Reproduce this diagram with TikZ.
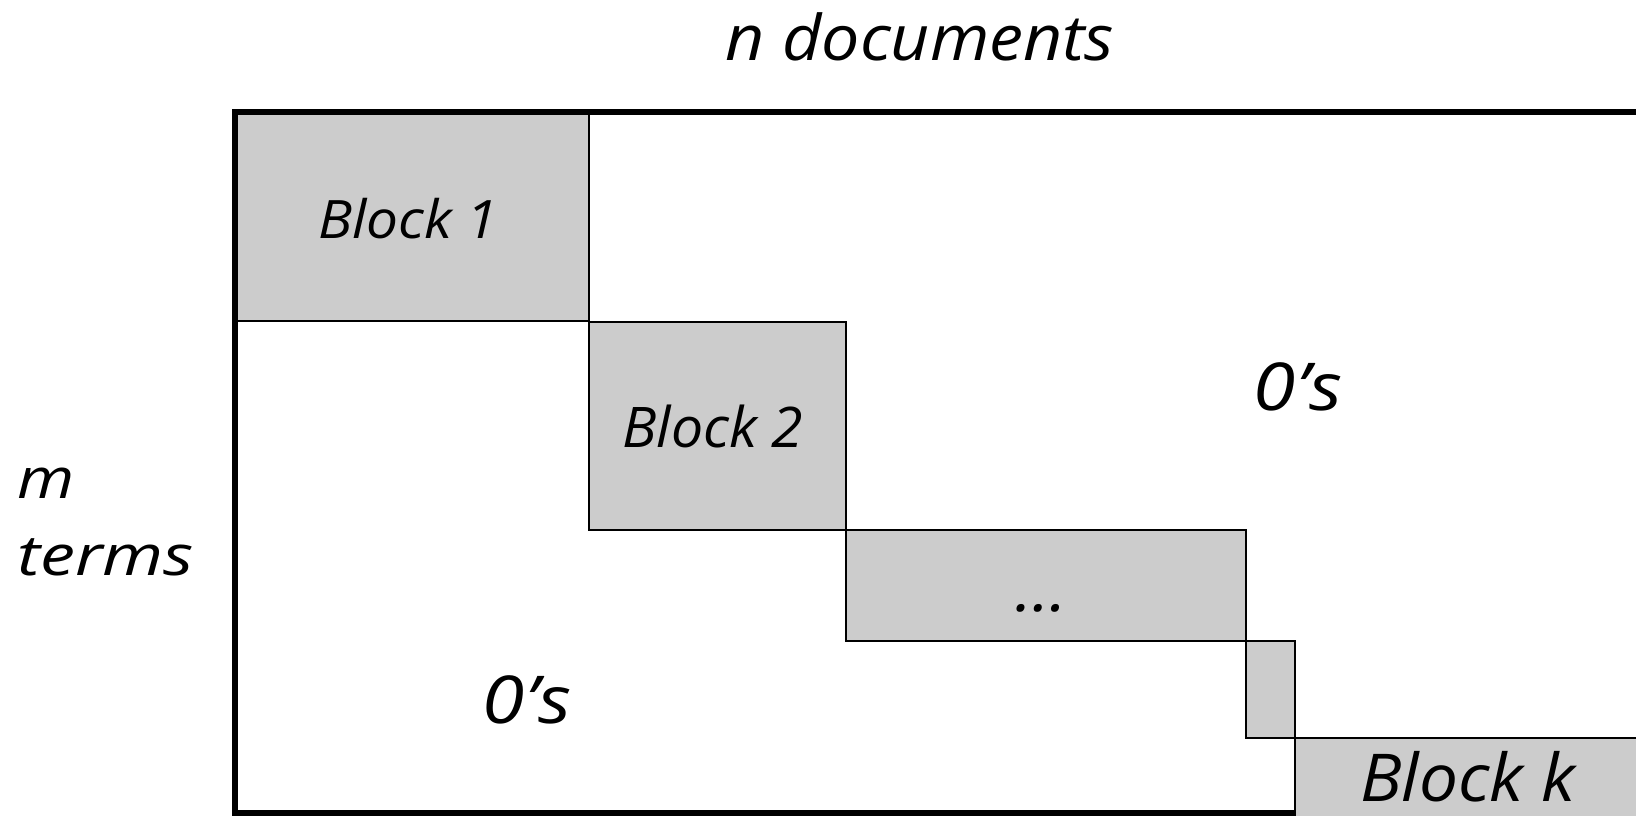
\documentclass[tikz,border=0pt]{standalone}
\usepackage{fontspec}
\setmainfont{Open Sans}
\definecolor{blockgray}{gray}{0.8}
\newcommand{\fsz}[1]{\fontsize{#1}{#1}\selectfont}
% italic label text widened horizontally by a factor
\newcommand{\wide}[2]{\scalebox{#1}[1]{#2}}
\begin{document}
\begin{tikzpicture}[x=1pt,y=-1pt,
  blk/.style={draw=black, fill=blockgray, line width=2.2pt, inner sep=0pt, anchor=north west},
  frame/.style={draw=black, line width=5.2pt},
  lbl/.style={inner sep=0pt, anchor=base, font=\itshape}]
\useasboundingbox (0,0) rectangle (1636,816);
\clip (0,0) rectangle (1636,816);

% diagonal blocks of the term-document matrix
\node[blk, minimum width=353pt, minimum height=208pt] (b1) at (235,112) {};
\node[blk, minimum width=257pt, minimum height=208pt] (b2) at (588,321) {};
\node[blk, minimum width=400pt, minimum height=111pt] (b3) at (845,529) {};
\node[blk, minimum width=49pt,  minimum height=97pt]  (b4) at (1245,640) {};
\node[blk, minimum width=420pt, minimum height=120pt] (bk) at (1294,737) {};

% matrix frame
\draw[frame] (1640,112) -- (235,112) -- (235,813) -- (1294,813);

% block labels
\node[lbl, font=\itshape\fsz{53}] (t1) at (408,238) {\wide{1.07}{Block 1}};
\node[lbl, font=\itshape\fsz{56}] (t2) at (713,447) {\wide{1.02}{Block 2}};
\node[lbl, font=\itshape\fsz{62}] (t3) at (1041,611) {\wide{1.1}{…}};
\node[lbl, font=\itshape\fsz{66}] (tk) at (1468,801) {\wide{1.05}{Block k}};

% zero regions
\node[lbl, font=\itshape\fsz{66}] (zu) at (1298,410) {\wide{1.16}{0’s}};
\node[lbl, font=\itshape\fsz{66}] (zl) at (527,723) {\wide{1.16}{0’s}};

% axis labels
\node[lbl, font=\itshape\fsz{63}] (cols) at (920,60) {\wide{1.08}{n documents}};
\node[lbl, anchor=base west, font=\itshape\fsz{56}] (rows1) at (17,498) {\wide{1.17}{m}};
\node[lbl, anchor=base west, font=\itshape\fsz{56}] (rows2) at (17,575) {\wide{1.25}{terms}};
\end{tikzpicture}
\end{document}
